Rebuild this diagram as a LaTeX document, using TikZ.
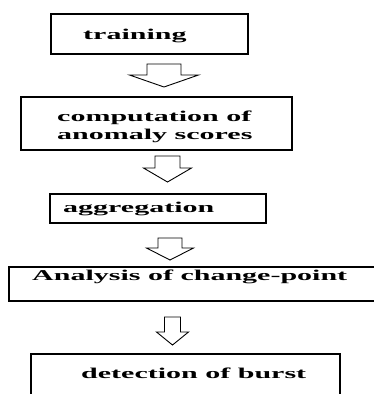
\documentclass[tikz,border=0pt]{standalone}
\usepackage{fontspec}
\setmainfont{Liberation Serif}
\newcommand{\blockarrow}[6]{% #1 cx, #2 ytop, #3 shaft half, #4 ywing, #5 wing half, #6 ytip
  \draw[blk] ({#1-#3},#2) -- ({#1+#3},#2) -- ({#1+#3},#4) -- ({#1+#5},#4) -- (#1,#6) -- ({#1-#5},#4) -- ({#1-#3},#4) -- cycle;}
\newcommand{\wide}[1]{\scalebox{2}[1]{#1}}
\begin{document}
\begin{tikzpicture}[x=1pt,y=-1pt,
  box/.style={draw=black, line width=1.3pt, inner sep=0pt},
  lbl/.style={anchor=base west, inner sep=0pt, align=left, font=\fontsize{15}{18}\selectfont\bfseries},
  blk/.style={draw=black, line width=0.9pt, fill=white, line join=miter}]
\useasboundingbox (0,0) rectangle (374,394);
\clip (0,0) rectangle (374,394);
\fill[white] (0,0) rectangle (374,394);
% boxes
\node[box, minimum width=197pt, minimum height=40pt] (b1) at (149.5,34) {};
\node[box, minimum width=271pt, minimum height=53pt] (b2) at (156.5,123.5) {};
\node[box, minimum width=216pt, minimum height=29pt] (b3) at (158,208.5) {};
\node[box, minimum width=381pt, minimum height=34pt] (b4) at (199.5,284) {};
\node[box, minimum width=309pt, minimum height=56pt] (b5) at (185.5,382) {};
% labels
\node[lbl] (t1) at (83,39) {\wide{training}};
\node[lbl] (t2) at (57,139) {\wide{computation of}\\\wide{anomaly scores}};
\node[lbl] (t3) at (63,212) {\wide{aggregation}};
\node[lbl] (t4) at (32,280) {\wide{Analysis of change-point}};
\node[lbl] (t5) at (81,378) {\wide{detection of burst}};
% block arrows
\blockarrow{164}{64}{17}{75}{34.5}{87}
\blockarrow{167.5}{156}{12.5}{168}{24}{182}
\blockarrow{170}{238}{12}{248}{23.5}{260}
\blockarrow{172.5}{317}{8}{332}{16}{345}
\end{tikzpicture}
\end{document}
